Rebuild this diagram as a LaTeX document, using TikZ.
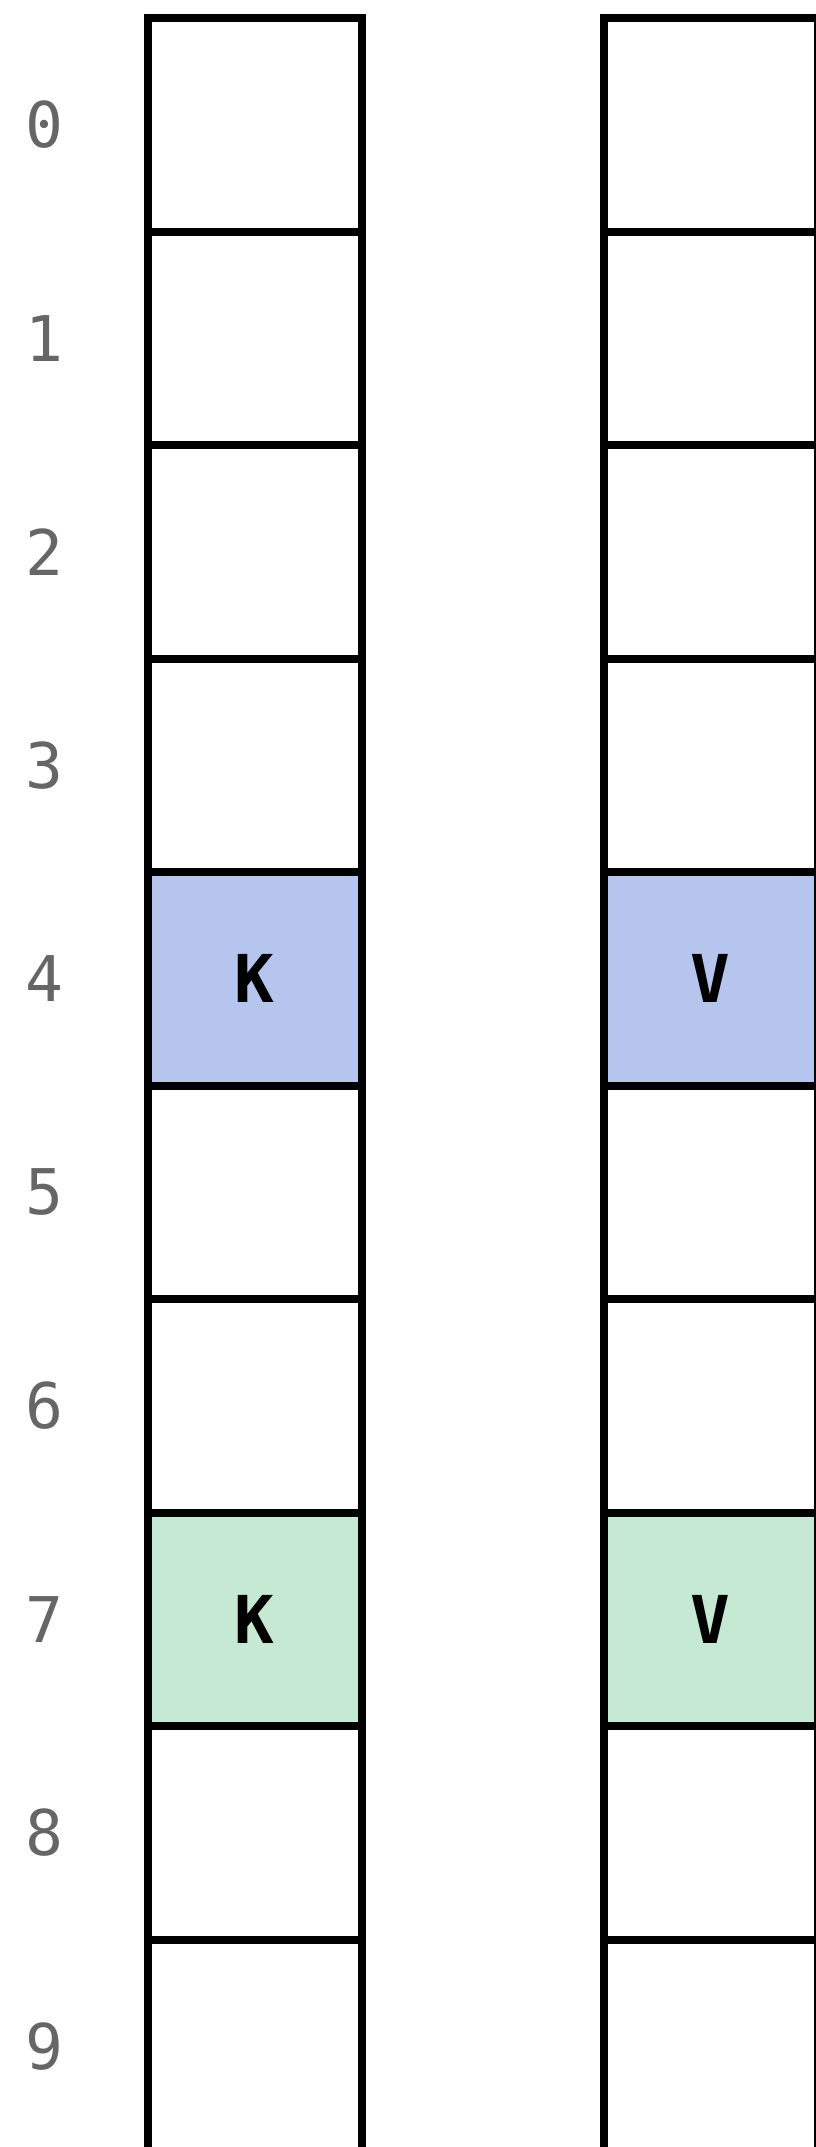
\documentclass[tikz,border=0pt]{standalone}
\usepackage{fontspec}
\setmonofont{DejaVu Sans Mono}
\usetikzlibrary{positioning}
\definecolor{hashblue}{HTML}{B6C5ED}
\definecolor{hashgreen}{HTML}{C6E9D3}
\definecolor{idxgray}{HTML}{666666}
\tikzset{
  slot/.style={draw, line width=8pt, minimum width=213.5pt, minimum height=213.5pt, inner sep=0pt, outer sep=0pt},
  row4/.style={fill=hashblue},
  row7/.style={fill=hashgreen},
  idx/.style={text=idxgray, font=\fontsize{63}{63}\selectfont\ttfamily},
  entry/.style={font=\fontsize{66}{66}\selectfont\ttfamily\bfseries}
}

\begin{document}
\begin{tikzpicture}[x=1pt,y=-1pt]
 \useasboundingbox (0,0) rectangle (816,2147);
 %SLOTS
 \node[slot] (k0) at (254.75,124.75) {};
 \node[slot, right=242.5pt of k0] (v0) {};
 \foreach \i [count=\j from 0] in {1,...,9}{
   \node[slot, row\i/.try, below=0pt of k\j] (k\i) {};
   \node[slot, row\i/.try, below=0pt of v\j] (v\i) {};
 }
 %INDICES
 \foreach \i in {0,...,9}
   \node[idx] (i\i) at ([xshift=-104pt]k\i.west) {\i};
 %ENTRIES
 \node[entry] (k4txt) at (k4) {K};
 \node[entry] (v4txt) at (v4) {V};
 \node[entry] (k7txt) at (k7) {K};
 \node[entry] (v7txt) at (v7) {V};
\end{tikzpicture}
\end{document}
